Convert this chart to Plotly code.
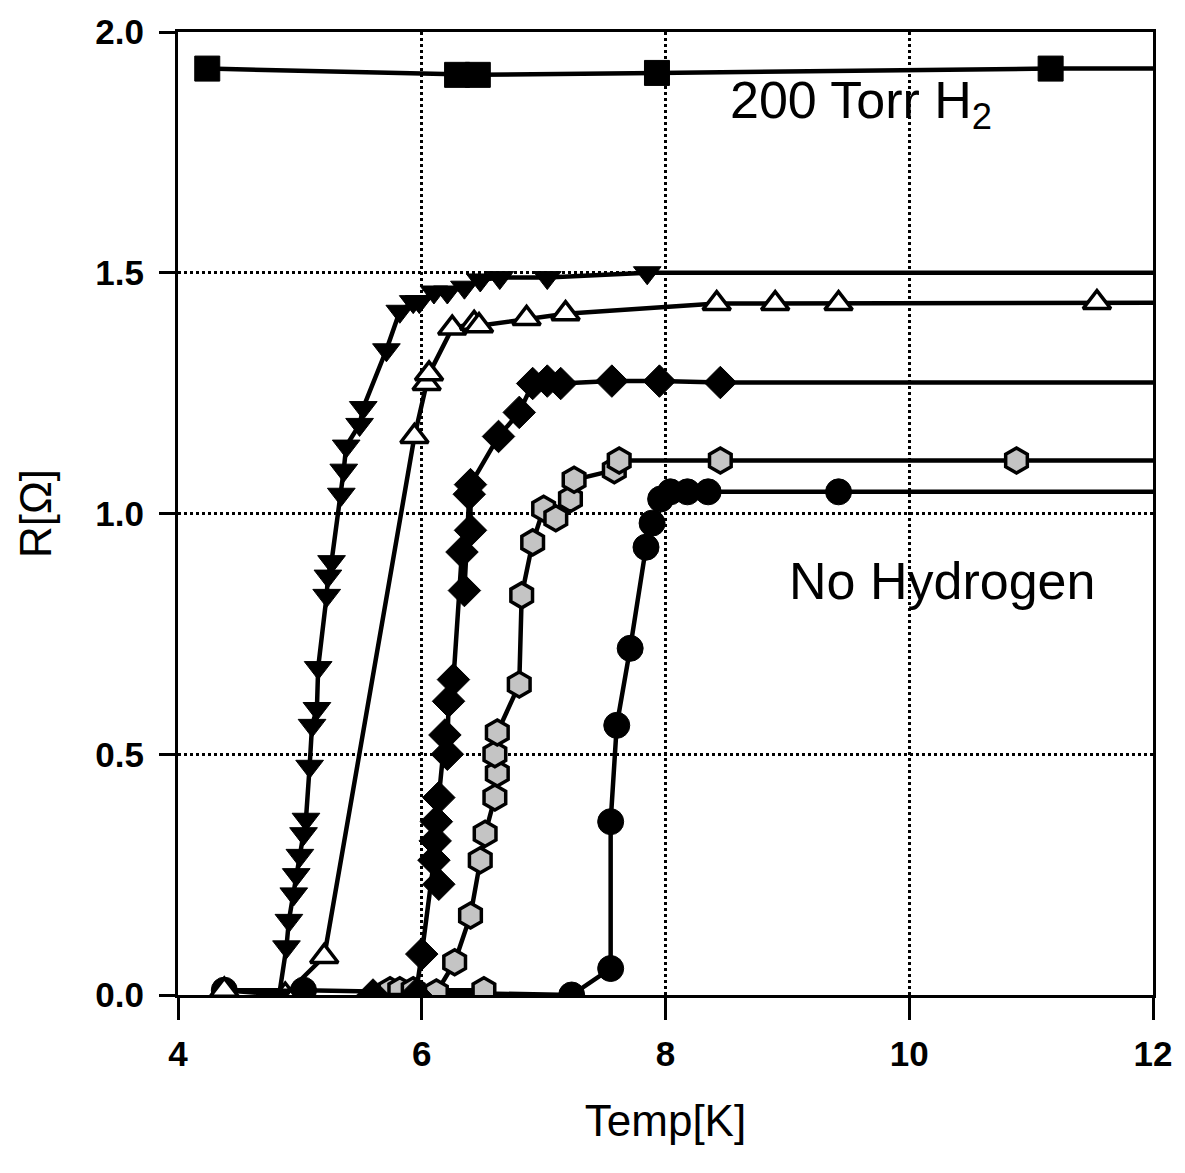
import plotly.graph_objects as go

# ---- data ----
h2_T = [4.24, 6.29, 6.46, 7.93, 11.16, 12.4]
h2_R = [1.924, 1.911, 1.911, 1.915, 1.924, 1.924]

dtri_T = [4.83, 4.89, 4.91, 4.95, 4.97, 5.00, 5.03, 5.05, 5.08, 5.10, 5.14, 5.15,
          5.22, 5.23, 5.26, 5.34, 5.36, 5.38, 5.49, 5.52, 5.71, 5.82, 5.93, 5.98,
          6.10, 6.21, 6.35, 6.48, 6.64, 7.03, 7.85, 12.4]
dtri_R = [0.0, 0.10, 0.155, 0.21, 0.25, 0.29, 0.335, 0.365, 0.475, 0.56, 0.595, 0.68,
          0.83, 0.87, 0.90, 1.04, 1.09, 1.14, 1.185, 1.22, 1.34, 1.42, 1.44, 1.44,
          1.46, 1.46, 1.47, 1.485, 1.49, 1.49, 1.50, 1.50]

otri_T = [4.38, 4.88, 5.20, 5.94, 6.04, 6.06, 6.25, 6.43, 6.47, 6.86, 7.18,
          8.42, 8.90, 9.42, 11.54, 12.4]
otri_R = [0.01, 0.0, 0.08, 1.16, 1.27, 1.29, 1.385, 1.395, 1.39, 1.405, 1.415,
          1.436, 1.436, 1.436, 1.438, 1.438]

dia_T = [5.60, 5.95, 6.00, 6.10, 6.11, 6.12, 6.14, 6.14, 6.19, 6.21, 6.22, 6.26,
         6.33, 6.35, 6.39, 6.40, 6.40, 6.63, 6.80, 6.91, 7.03, 7.14, 7.56, 7.95,
         8.45, 12.4]
dia_R = [0.0, 0.0, 0.085, 0.28, 0.32, 0.36, 0.23, 0.41, 0.54, 0.50, 0.61, 0.655,
         0.92, 0.84, 1.04, 0.965, 1.06, 1.16, 1.21, 1.27, 1.275, 1.27, 1.275, 1.275,
         1.272, 1.272]

hex_T = [6.51, 5.74, 5.82, 5.93, 6.12, 6.27, 6.40, 6.48, 6.52, 6.60, 6.62, 6.60,
         6.62, 6.80, 6.82, 6.91, 7.00, 7.10, 7.22, 7.25, 7.58, 7.62, 8.45, 10.88, 12.4]
hex_R = [0.01, 0.01, 0.01, 0.01, 0.005, 0.068, 0.165, 0.28, 0.335, 0.41, 0.46, 0.50,
         0.545, 0.645, 0.83, 0.94, 1.01, 0.99, 1.03, 1.07, 1.09, 1.11, 1.11, 1.11, 1.11]

circ_T = [4.38, 5.03, 7.23, 7.55, 7.55, 7.60, 7.71, 7.84, 7.89, 7.96, 8.04, 8.18,
          8.35, 9.42, 12.4]
circ_R = [0.01, 0.01, 0.0, 0.055, 0.36, 0.56, 0.72, 0.93, 0.98, 1.03, 1.045, 1.045,
          1.045, 1.045, 1.045]

x_ticks = [4, 6, 8, 10, 12]
y_ticks = [0.0, 0.5, 1.0, 1.5, 2.0]
y_tick_text = ["0.0", "0.5", "1.0", "1.5", "2.0"]

FONT = "Liberation Sans, Arial, Helvetica, sans-serif"

fig = go.Figure()

def add(T, R, symbol, fill, size, outline=1):
    fig.add_trace(go.Scatter(
        x=T, y=R, mode="lines+markers",
        line=dict(color="black", width=4.5),
        marker=dict(symbol=symbol, size=size, color=fill,
                    line=dict(color="black", width=outline)),
        cliponaxis=True, showlegend=False))

add(circ_T, circ_R, "circle", "black", 26)
add(hex_T, hex_R, "hexagon", "#c4c4c4", 25, 3.5)
add(dia_T, dia_R, "diamond", "black", 25)
add(otri_T, otri_R, "triangle-up", "white", 24, 3.5)
add(dtri_T, dtri_R, "triangle-down", "black", 24)
add(h2_T, h2_R, "square", "black", 25)

fig.add_annotation(x=0.700, y=0.925, xref="paper", yref="paper",
                   text="200 Torr H<sub>2</sub>", showarrow=False,
                   font=dict(family=FONT, size=52, color="black"),
                   xanchor="center", yanchor="middle")
fig.add_annotation(x=0.784, y=0.43, xref="paper", yref="paper",
                   text="No Hydrogen", showarrow=False,
                   font=dict(family=FONT, size=52, color="black"),
                   xanchor="center", yanchor="middle")

fig.update_xaxes(range=[4, 12], tickvals=x_ticks, ticktext=[str(v) for v in x_ticks],
                 showline=True, linecolor="black", linewidth=3, mirror=True,
                 ticks="outside", ticklen=22, tickwidth=3, tickcolor="black",
                 showgrid=True, gridcolor="black", gridwidth=2.5, griddash="dot",
                 zeroline=False, ticklabelstandoff=4,
                 tickfont=dict(family=FONT, size=35, color="black", weight="bold"),
                 title=dict(text="Temp[K]", font=dict(family=FONT, size=44, color="black"),
                            standoff=34))
fig.update_yaxes(range=[0, 2], tickvals=y_ticks, ticktext=y_tick_text,
                 showline=True, linecolor="black", linewidth=3, mirror=True,
                 ticks="outside", ticklen=16, tickwidth=3, tickcolor="black",
                 showgrid=True, gridcolor="black", gridwidth=2.5, griddash="dot",
                 zeroline=False, ticklabelstandoff=8,
                 tickfont=dict(family=FONT, size=35, color="black", weight="bold"),
                 title=dict(text="R[Ω]", font=dict(family=FONT, size=44, color="black"),
                            standoff=30))

fig.update_layout(width=1185, height=1173,
                  margin=dict(l=178, r=32, t=25, b=178),
                  plot_bgcolor="white", paper_bgcolor="white")

fig.write_html("out.html")
